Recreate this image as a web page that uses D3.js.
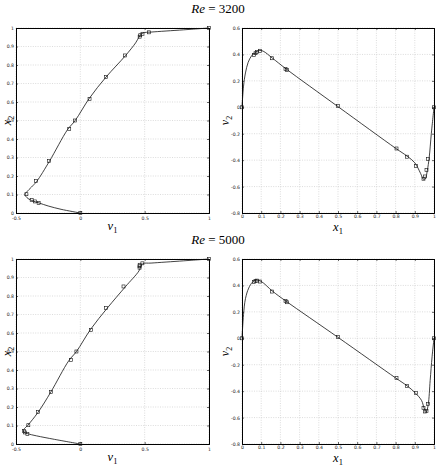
<!DOCTYPE html>
<html>
<head>
<meta charset="utf-8">
<script src="https://cdn.jsdelivr.net/npm/d3@7"></script>
<style>
  body { margin: 0; background: #fff; }
  svg { display: block; }
</style>
</head>
<body>
<svg id="chart" width="436" height="466"></svg>
<script>
// Ghia et al. reference points, u along vertical centre line
const ghiaY = [1.0000, 0.9766, 0.9688, 0.9609, 0.9531, 0.8516, 0.7344, 0.6172, 0.5000, 0.4531, 0.2813, 0.1719, 0.1016, 0.0703, 0.0625, 0.0547, 0.0000]
const ghiaU3200 = [1.0, 0.53236, 0.48296, 0.46547, 0.46101, 0.34682, 0.19791, 0.07156, -0.04272, -0.08636, -0.24427, -0.34323, -0.41933, -0.37827, -0.35344, -0.32407, 0.0]
const ghiaU5000 = [1.0, 0.48223, 0.46120, 0.45992, 0.46036, 0.33556, 0.20087, 0.08183, -0.03039, -0.07404, -0.22855, -0.33050, -0.40435, -0.43643, -0.42901, -0.41165, 0.0]

// v along horizontal centre line
const ghiaX = [1.0000, 0.9688, 0.9609, 0.9531, 0.9453, 0.9063, 0.8594, 0.8047, 0.5000, 0.2344, 0.2266, 0.1563, 0.0938, 0.0781, 0.0703, 0.0625, 0.0000]
const ghiaV3200 = [0.0, -0.39017, -0.47425, -0.52357, -0.54053, -0.44307, -0.37401, -0.31184, 0.00999, 0.28188, 0.29030, 0.37119, 0.42768, 0.41906, 0.40917, 0.39560, 0.0]
const ghiaV5000 = [0.0, -0.49774, -0.55069, -0.55408, -0.52876, -0.41442, -0.36214, -0.30018, 0.00945, 0.27280, 0.28066, 0.35368, 0.42951, 0.43648, 0.43329, 0.42447, 0.0]

// computed solution
const lineU3200 = [[0, 0], [-0.15, 0.02], [-0.25, 0.038], [-0.32, 0.054], [-0.38, 0.068], [-0.415, 0.083], [-0.43, 0.1], [-0.415, 0.115], [-0.38, 0.14], [-0.34, 0.17], [-0.24, 0.28], [-0.1, 0.45], [-0.04, 0.5], [0.07, 0.62], [0.2, 0.735], [0.35, 0.85], [0.43, 0.92], [0.455, 0.95], [0.47, 0.965], [0.49, 0.974], [0.55, 0.978], [0.8, 0.99], [1, 1]]
const lineU5000 = [[0, 0], [-0.2, 0.025], [-0.34, 0.044], [-0.41, 0.056], [-0.44, 0.066], [-0.44, 0.078], [-0.41, 0.1], [-0.33, 0.17], [-0.23, 0.28], [-0.09, 0.45], [-0.03, 0.5], [0.08, 0.62], [0.21, 0.735], [0.35, 0.85], [0.455, 0.935], [0.47, 0.96], [0.485, 0.975], [0.55, 0.978], [0.8, 0.99], [1, 1]]
const lineV3200 = [[0, 0], [0.008, 0.16], [0.018, 0.26], [0.032, 0.34], [0.05, 0.39], [0.07, 0.415], [0.09, 0.43], [0.11, 0.425], [0.16, 0.37], [0.23, 0.29], [0.5, 0.005], [0.8, -0.31], [0.86, -0.37], [0.9, -0.42], [0.93, -0.5], [0.945, -0.545], [0.955, -0.54], [0.965, -0.48], [0.975, -0.38], [0.986, -0.2], [1, 0]]
const lineV5000 = [[0, 0], [0.008, 0.18], [0.018, 0.3], [0.035, 0.38], [0.055, 0.425], [0.075, 0.44], [0.1, 0.43], [0.16, 0.355], [0.23, 0.28], [0.5, 0.007], [0.8, -0.3], [0.86, -0.36], [0.9, -0.41], [0.935, -0.47], [0.95, -0.535], [0.96, -0.555], [0.97, -0.5], [0.98, -0.32], [0.99, -0.14], [1, 0]]

const uTicks = [-0.5, 0, 0.5, 1]
const yTicks = d3.range(0, 11).map(i => i / 10)
const xTicks = d3.range(0, 11).map(i => i / 10)
const vTicks = [-0.8, -0.6, -0.4, -0.2, 0, 0.2, 0.4, 0.6]

const titles = ["3200", "5000"]

const svg = d3.select("#chart")
const fmt = d => d === 0 ? "0" : String(+d.toFixed(1))

function panel(box, xDomain, yDomain, xt, yt, pts, line, xLabel, yLabel) {
    let g = svg.append("g"),
        x = d3.scaleLinear().domain(xDomain).range([box.x0, box.x1]),
        y = d3.scaleLinear().domain(yDomain).range([box.y1, box.y0])

    // grid
    g.selectAll(null).data(xt).join("line")
        .attr("x1", d => x(d)).attr("x2", d => x(d))
        .attr("y1", box.y0).attr("y2", box.y1)
        .style("stroke", "#c4c4c4").style("stroke-width", 0.6)
        .style("stroke-dasharray", "1,1.4")
    g.selectAll(null).data(yt).join("line")
        .attr("x1", box.x0).attr("x2", box.x1)
        .attr("y1", d => y(d)).attr("y2", d => y(d))
        .style("stroke", "#c4c4c4").style("stroke-width", 0.6)
        .style("stroke-dasharray", "1,1.4")

    // axes, ticks inside
    g.append("g").attr("transform", `translate(0, ${box.y1})`)
        .call(d3.axisBottom(x).tickValues(xt).tickFormat(fmt).tickSize(-2).tickPadding(box.pad))
    g.append("g").attr("transform", `translate(${box.x0}, 0)`)
        .call(d3.axisLeft(y).tickValues(yt).tickFormat(fmt).tickSize(-2).tickPadding(2))
    g.append("g").attr("transform", `translate(0, ${box.y0})`)
        .call(d3.axisTop(x).tickValues(xt).tickFormat("").tickSize(-2))
    g.append("g").attr("transform", `translate(${box.x1}, 0)`)
        .call(d3.axisRight(y).tickValues(yt).tickFormat("").tickSize(-2))

    g.selectAll(".domain").style("stroke", "#000").style("stroke-width", 1)
    g.selectAll(".tick line").style("stroke", "#000").style("stroke-width", 0.6)
    g.selectAll(".tick text")
        .style("font-family", "DejaVu Sans")
        .style("font-size", "4.6px")
        .style("fill", "#222")

    // solution line
    g.append("path")
        .datum(line)
        .attr("d", d3.line().x(d => x(d[0])).y(d => y(d[1])).curve(d3.curveCatmullRom.alpha(0.5)))
        .style("fill", "none").style("stroke", "#111").style("stroke-width", 0.8)

    // reference squares
    g.selectAll(null).data(pts).join("rect")
        .attr("x", d => x(d[0]) - 1.5).attr("y", d => y(d[1]) - 1.5)
        .attr("width", 3).attr("height", 3)
        .style("fill", "none").style("stroke", "#111").style("stroke-width", 0.6)

    // labels
    let xl = g.append("text")
        .attr("x", (box.x0 + box.x1) / 2).attr("y", box.y1 + xLabel.dy)
        .attr("text-anchor", "middle")
        .style("font-family", "Liberation Serif").style("font-size", "12.5px")
    xl.append("tspan").text(xLabel.name).style("font-style", "italic")
    xl.append("tspan").text(xLabel.sub).attr("dy", 3).style("font-size", "8.5px")

    let yl = g.append("text")
        .attr("transform", `translate(${box.x0 + yLabel.dx}, ${(box.y0 + box.y1) / 2}) rotate(-90)`)
        .attr("text-anchor", "middle")
        .style("font-family", "Liberation Serif").style("font-size", "12px")
    yl.append("tspan").text(yLabel.name).style("font-style", "italic")
    yl.append("tspan").text(yLabel.sub).attr("dy", 3).style("font-size", "8px")
}

const rows = [
    {top: 28, bottom: 213, u: ghiaU3200, v: ghiaV3200, lu: lineU3200, lv: lineV3200},
    {top: 259, bottom: 444, u: ghiaU5000, v: ghiaV5000, lu: lineU5000, lv: lineV5000}
]

rows.forEach((row, i) => {
    let title = svg.append("text")
        .attr("x", 218).attr("y", row.top - 15)
        .attr("text-anchor", "middle")
        .style("font-family", "Liberation Serif").style("font-size", "13px")
    title.append("tspan").text("Re").style("font-style", "italic")
    title.append("tspan").text(" = " + titles[i])

    panel({x0: 16, x1: 209, y0: row.top, y1: row.bottom, pad: 4},
        [-0.5, 1], [0, 1], uTicks, yTicks,
        ghiaY.map((d, k) => [row.u[k], d]), row.lu,
        {name: "v", sub: "1", dy: 17}, {name: "x", sub: "2", dx: -5})

    panel({x0: 242, x1: 434, y0: row.top, y1: row.bottom, pad: 2},
        [0, 1], [-0.8, 0.6], xTicks, vTicks,
        ghiaX.map((d, k) => [d, row.v[k]]), row.lv,
        {name: "x", sub: "1", dy: 18}, {name: "v", sub: "2", dx: -13})
})
</script>
</body>
</html>
